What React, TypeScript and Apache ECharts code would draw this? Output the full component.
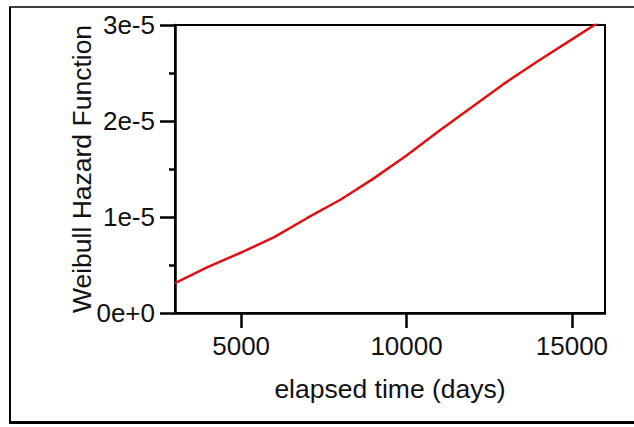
import React, { useEffect, useRef } from "react";
import * as echarts from "echarts";

const timeDays = [3000, 4000, 5000, 6000, 7000, 8000, 9000, 10000, 11000, 12000, 13000, 14000, 15000, 16000];
const hazard = [3.1e-6, 4.8e-6, 6.3e-6, 7.9e-6, 9.9e-6, 11.8e-6, 14.0e-6, 16.4e-6, 19.0e-6, 21.5e-6, 24.0e-6, 26.3e-6, 28.5e-6, 30.7e-6];
const xTickValues = [5000, 10000, 15000];
const yTickLabels = ["0e+0", "1e-5", "2e-5", "3e-5"];

const FONT = "'Liberation Sans', Arial, sans-serif";

export default function App() {
  const ref = useRef<HTMLDivElement>(null);
  useEffect(() => {
    if (!ref.current) return;
    const chart = echarts.init(ref.current, undefined, { renderer: "svg" });
    chart.setOption({
      animation: false,
      backgroundColor: "#ffffff",
      grid: {
        left: 175,
        top: 25,
        right: 29,
        bottom: 114,
        show: true,
        borderColor: "#000",
        borderWidth: 2,
        backgroundColor: "transparent",
      },
      xAxis: {
        type: "value",
        min: 3000,
        max: 16000,
        name: "elapsed time (days)",
        nameLocation: "middle",
        nameGap: 62,
        nameMoveOverlap: false,
        nameTextStyle: { fontFamily: FONT, fontSize: 26.5, color: "#111" },
        axisLine: { show: true, onZero: false, lineStyle: { color: "#000", width: 2.5 } },
        axisTick: { show: true, length: 15, lineStyle: { color: "#000", width: 2.5 }, customValues: xTickValues },
        axisLabel: {
          fontFamily: FONT,
          fontSize: 26,
          color: "#111",
          margin: 20,
          customValues: xTickValues,
          formatter: (v: number) => String(v),
        },
        splitLine: { show: false },
      },
      yAxis: {
        type: "value",
        min: 0,
        max: 3e-5,
        interval: 1e-5,
        name: "Weibull Hazard Function",
        nameLocation: "middle",
        nameGap: 80,
        nameMoveOverlap: false,
        nameTextStyle: { fontFamily: FONT, fontSize: 26.5, color: "#111" },
        axisLine: { show: true, lineStyle: { color: "#000", width: 2.5 } },
        axisTick: { show: true, length: 15, lineStyle: { color: "#000", width: 2.5 } },
        minorTick: { show: true, splitNumber: 2, length: 6, lineStyle: { color: "#000", width: 2.5 } },
        axisLabel: {
          fontFamily: FONT,
          fontSize: 26,
          color: "#111",
          margin: 20,
          formatter: (v: number) => yTickLabels[Math.round(v / 1e-5)] ?? "",
        },
        splitLine: { show: false },
      },
      series: [
        {
          type: "line",
          data: timeDays.map((t, i) => [t, hazard[i]]),
          showSymbol: false,
          smooth: false,
          clip: true,
          lineStyle: { color: "#e01010", width: 2.5 },
        },
      ],
      graphic: [
        { type: "line", shape: { x1: 9, y1: 7, x2: 640, y2: 7 }, style: { stroke: "#000", lineWidth: 1.5 } },
        { type: "line", shape: { x1: 10, y1: 7, x2: 10, y2: 423 }, style: { stroke: "#000", lineWidth: 2 } },
        { type: "line", shape: { x1: 9, y1: 422.5, x2: 640, y2: 422.5 }, style: { stroke: "#000", lineWidth: 3 } },
      ],
    });
    return () => chart.dispose();
  }, []);
  return <div ref={ref} style={{ width: 634, height: 427, position: "absolute", left: 0, top: 0 }} />;
}
